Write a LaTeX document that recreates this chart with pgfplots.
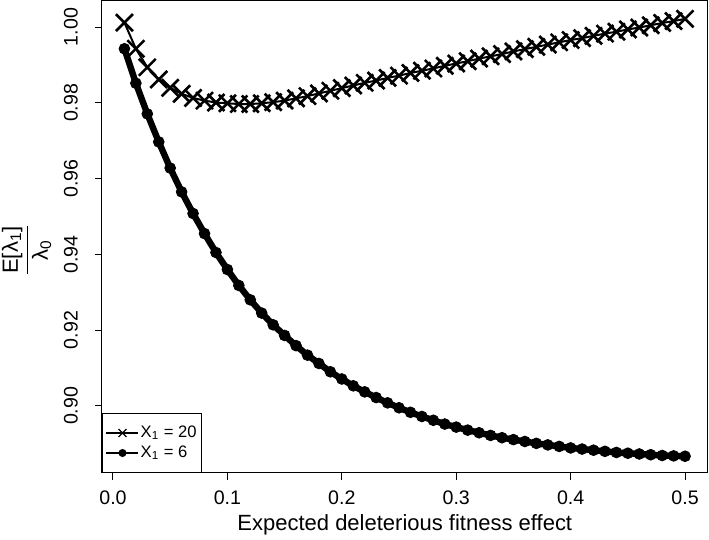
\documentclass[border=0pt]{standalone}
\usepackage{fontspec}
\setmainfont{Liberation Sans}
\usepackage{pgfplots}
\pgfplotsset{compat=1.18}
\usepackage{pgfplotstable}

\pgfplotstableread{
x y
0.01 1.0012
0.02 0.9943
0.03 0.9894
0.04 0.9862
0.05 0.9840
0.06 0.9824
0.07 0.9813
0.08 0.9806
0.09 0.9801
0.10 0.9799
0.11 0.9797
0.12 0.9797
0.13 0.9799
0.14 0.9802
0.15 0.9806
0.16 0.9812
0.17 0.9818
0.18 0.9825
0.19 0.9832
0.20 0.9839
0.21 0.9846
0.22 0.9853
0.23 0.9859
0.24 0.9866
0.25 0.9872
0.26 0.9879
0.27 0.9885
0.28 0.9891
0.29 0.9898
0.30 0.9904
0.31 0.9910
0.32 0.9917
0.33 0.9923
0.34 0.9929
0.35 0.9936
0.36 0.9942
0.37 0.9948
0.38 0.9954
0.39 0.9960
0.40 0.9966
0.41 0.9971
0.42 0.9977
0.43 0.9983
0.44 0.9988
0.45 0.9994
0.46 0.9999
0.47 1.0005
0.48 1.0011
0.49 1.0016
0.50 1.0022
}\seriesA

\pgfplotstableread{
x y
0.01 0.9943
0.02 0.9852
0.03 0.9771
0.04 0.9697
0.05 0.9628
0.06 0.9565
0.07 0.9508
0.08 0.9455
0.09 0.9405
0.10 0.9360
0.11 0.9318
0.12 0.9280
0.13 0.9245
0.14 0.9214
0.15 0.9186
0.16 0.9159
0.17 0.9134
0.18 0.9112
0.19 0.9090
0.20 0.9071
0.21 0.9053
0.22 0.9037
0.23 0.9022
0.24 0.9008
0.25 0.8995
0.26 0.8983
0.27 0.8972
0.28 0.8962
0.29 0.8952
0.30 0.8944
0.31 0.8936
0.32 0.8929
0.33 0.8922
0.34 0.8916
0.35 0.8911
0.36 0.8906
0.37 0.8901
0.38 0.8897
0.39 0.8893
0.40 0.8889
0.41 0.8886
0.42 0.8883
0.43 0.8880
0.44 0.8877
0.45 0.8875
0.46 0.8873
0.47 0.8871
0.48 0.8869
0.49 0.8868
0.50 0.8867
}\seriesB

\begin{document}
\begin{tikzpicture}
\begin{axis}[
  at={(0,0)}, anchor=south west,
  width=302.75pt, height=236.25pt, scale only axis,
  xmin=-0.0096, xmax=0.5196,
  ymin=0.88228, ymax=1.00704,
  xtick={0,0.1,0.2,0.3,0.4,0.5},
  xticklabels={0.0,0.1,0.2,0.3,0.4,0.5},
  ytick={0.90,0.92,0.94,0.96,0.98,1.00},
  yticklabels={0.90,0.92,0.94,0.96,0.98,1.00},
  xtick pos=bottom, ytick pos=left,
  tick align=outside, major tick length=3.5pt,
  tick style={black, line width=0.5pt},
  axis line style={black, line width=0.5pt},
  ticklabel style={font=\fontsize{9.8}{11}\selectfont},
  yticklabel style={rotate=90, anchor=south},
  yticklabel shift=5pt,
  xticklabel shift=2pt,
  legend style={at={(rel axis cs:0,0)}, anchor=south west, draw=black, line width=0.5pt,
    font=\fontsize{8.3}{9}\selectfont, inner xsep=1.7pt, inner ysep=6pt, row sep=2.5pt,
    nodes={inner ysep=0pt, inner xsep=0.8pt, text height=6pt, text depth=1.5pt}},
  legend cell align=left,
  legend image code/.code={\draw[mark repeat=2,mark phase=2,#1] plot coordinates {(0pt,0pt) (8pt,0pt) (16pt,0pt)};},
]
\addplot[black, line width=1pt, mark=x, mark size=6pt, mark options={line width=1.3pt}, forget plot] table[x=x,y=y] {\seriesA};
\addplot[black, line width=3.2pt, mark=*, mark size=2.7pt, mark options={line width=0.4pt, fill=black}, forget plot] table[x=x,y=y] {\seriesB};
\addlegendimage{black, line width=0.6pt, mark=x, mark size=2.8pt, mark options={line width=0.6pt}}
\addlegendentry{X\textsubscript{1} = 20\hspace{5pt}}
\addlegendimage{black, line width=0.6pt, mark=*, mark size=1.7pt, mark options={fill=black}}
\addlegendentry{X\textsubscript{1} = 6}
\end{axis}
\node[rotate=90, font=\fontsize{11}{13}\selectfont] at (-37.7pt,111.5pt) {$\displaystyle\frac{\mbox{E[λ\textsubscript{1}]}}{\mbox{λ\textsubscript{0}}}$};
\node[anchor=base, font=\fontsize{11}{13}\selectfont] at (151.4pt,-29pt) {Expected deleterious fitness effect};
\pgfresetboundingbox
\useasboundingbox (-51pt,-33.5pt) rectangle (303.5pt,236.5pt);
\end{tikzpicture}
\end{document}
